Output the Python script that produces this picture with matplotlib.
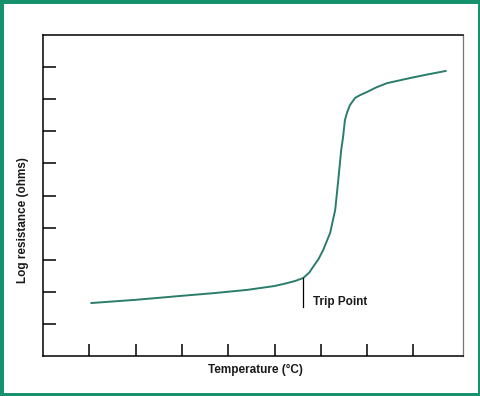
import matplotlib
matplotlib.use("Agg")
import matplotlib.pyplot as plt
from matplotlib.patches import Rectangle

# Data (arbitrary units)
temperature = [1.04, 2.0, 2.96, 3.7, 4.41, 5.0, 5.27, 5.45, 5.62, 5.75, 5.83, 5.95, 6.05, 6.20,
               6.31, 6.37, 6.44, 6.48, 6.52, 6.57, 6.63, 6.74, 6.85, 6.99, 7.20, 7.43,
               7.93, 8.30, 8.70]
log_resistance = [1.65, 1.75, 1.87, 1.96, 2.06, 2.18, 2.27, 2.34, 2.43, 2.60, 2.77, 3.02, 3.30, 3.83,
                  4.55, 5.39, 6.42, 6.82, 7.35, 7.60, 7.82, 8.04, 8.13, 8.22, 8.37, 8.50,
                  8.66, 8.77, 8.88]
x_ticks = [1, 2, 3, 4, 5, 6, 7, 8]
y_ticks = [1, 2, 3, 4, 5, 6, 7, 8, 9]
trip_x = 5.62
trip_y = 2.43

fig = plt.figure(figsize=(4.81, 3.96), dpi=100)
ax = fig.add_axes([43 / 481, 1 - 356 / 396, 420 / 481, 321 / 396])

ax.plot(temperature, log_resistance, color="#2a7d6b", lw=1.4,
        solid_capstyle="round", solid_joinstyle="round")
ax.plot([trip_x, trip_x], [trip_y, 1.53], color="black", lw=0.9)
ax.text(trip_x + 0.22, 1.68, "Trip Point", fontsize=8.5, fontweight="bold",
        family="Liberation Sans", va="center", ha="left", color="#1a1a1a")

ax.set_xlim(0, 9.07)
ax.set_ylim(0, 10)
ax.set_xticks(x_ticks)
ax.set_yticks(y_ticks)
ax.set_xticklabels([])
ax.set_yticklabels([])
ax.tick_params(direction="in", length=9, width=1.1, color="black")
for s in ["left", "bottom", "top"]:
    ax.spines[s].set_linewidth(1.1)
    ax.spines[s].set_color("black")
ax.spines["right"].set_linewidth(0.9)
ax.spines["right"].set_color("#777777")

ax.set_xlabel("Temperature (°C)", fontsize=8.5, fontweight="bold",
              family="Liberation Sans", color="#1a1a1a", va="top")
ax.xaxis.set_label_coords(0.505, -0.026)
ax.set_ylabel("Log resistance (ohms)", fontsize=8.5, fontweight="bold",
              family="Liberation Sans", color="#1a1a1a")
ax.yaxis.set_label_coords(-0.033, 0.425)

fig.patches.append(Rectangle((0, 0), 1, 1, transform=fig.transFigure,
                             fill=False, edgecolor="#14916d", linewidth=5))

fig.savefig("out.png", dpi=100)
